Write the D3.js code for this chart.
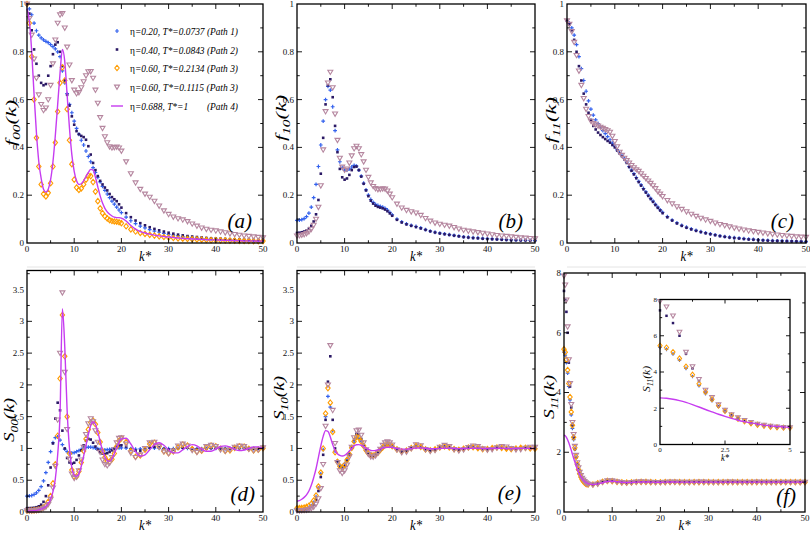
<!DOCTYPE html>
<html><head><meta charset="utf-8">
<script src="https://cdn.jsdelivr.net/npm/d3@7"></script>
<style>
body{margin:0;background:#fff}
svg{display:block}
text{font-family:"Liberation Serif","Times New Roman",serif}
</style>
</head><body>
<svg id="chart" width="810" height="537"></svg>
<script>
// ---------------- DATA ----------------
// k* sampling grid for panels (a)-(e)
const kMain = [0,0.5,1,1.5,2,2.5,3,3.5,4,4.5,5,5.5,6,6.5,7,7.5,8,8.5,9,9.5,10,10.5,11,11.5,12,12.5,13,13.5,14,14.5,15,15.5,16,16.5,17,17.5,18,18.5,19,19.5,20,
  21,22,23,24,25,26,27,28,29,30,31,32,33,34,35,36,37,38,39,40,41,42,43,44,45,46,47,48,49,50];
// k* sampling grid for panel (f) and its inset
const kF = [0,0.25,0.5,0.75,1,1.25,1.5,1.75,2,2.25,2.5,2.75,3,3.25,3.5,3.75,4,4.25,4.5,4.75,5,
  6,7,8,9,10,11,12,13,14,15,16,17,18,19,20,21,22,23,24,25,26,27,28,29,30,31,32,33,34,35,36,37,38,39,40,41,42,43,44,45,46,47,48,49,50];

const legendLabels = [
  ["η", "=0.20, T*=0.0737 (Path 1)"],
  ["η", "=0.40, T*=0.0843 (Path 2)"],
  ["η", "=0.60, T*=0.2134 (Path 3)"],
  ["η", "=0.60, T*=0.1115 (Path 3)"],
  ["η", "=0.688, T*=1\u00A0\u00A0\u00A0\u00A0\u00A0\u00A0\u00A0\u00A0(Path 4)"]
];

// f00(k)
const f00_p1 = [1.0,0.98,0.955,0.92,0.888,0.87,0.858,0.85,0.844,0.838,
  0.83,0.822,0.812,0.8,0.78,0.72,0.67,0.625,0.58,0.545,
  0.51,0.48,0.455,0.43,0.41,0.385,0.362,0.34,0.315,0.295,
  0.275,0.256,0.237,0.22,0.205,0.19,0.175,0.163,0.15,0.138,0.127,
  0.108,0.093,0.081,0.071,0.063,0.056,0.05,0.045,0.04,0.036,
  0.033,0.03,0.027,0.025,0.023,0.021,0.019,0.018,0.017,0.016,
  0.015,0.014,0.013,0.012,0.012,0.011,0.011,0.01,0.01,0.01];
const f00_p2 = [1.0,0.96,0.89,0.81,0.75,0.7,0.67,0.66,0.665,0.7,
  0.74,0.79,0.83,0.84,0.8,0.74,0.68,0.62,0.575,0.53,
  0.495,0.468,0.455,0.448,0.443,0.432,0.405,0.37,0.335,0.305,
  0.28,0.26,0.245,0.232,0.22,0.205,0.192,0.183,0.175,0.162,0.148,
  0.125,0.108,0.094,0.083,0.074,0.066,0.059,0.053,0.048,0.043,
  0.039,0.035,0.032,0.029,0.027,0.025,0.023,0.021,0.02,0.019,
  0.018,0.017,0.016,0.015,0.015,0.014,0.014,0.013,0.013,0.013];
const f00_p3a = [1.0,0.92,0.78,0.6,0.44,0.32,0.245,0.205,0.195,0.21,
  0.25,0.32,0.42,0.55,0.67,0.735,0.68,0.56,0.43,0.33,
  0.265,0.232,0.222,0.228,0.245,0.265,0.282,0.28,0.255,0.215,
  0.175,0.145,0.125,0.112,0.103,0.096,0.092,0.09,0.089,0.087,0.083,
  0.07,0.057,0.048,0.042,0.038,0.034,0.031,0.028,0.025,0.023,
  0.021,0.019,0.018,0.017,0.016,0.015,0.014,0.013,0.012,0.012,
  0.011,0.011,0.01,0.01,0.009,0.009,0.009,0.008,0.008,0.008];
const f00_p3b = [1.0,0.94,0.87,0.77,0.69,0.62,0.58,0.555,0.565,0.6,
  0.66,0.75,0.85,0.92,0.955,0.96,0.9,0.82,0.745,0.68,
  0.64,0.625,0.63,0.65,0.675,0.7,0.717,0.718,0.69,0.64,
  0.585,0.525,0.48,0.445,0.42,0.403,0.398,0.4,0.402,0.398,0.385,
  0.34,0.29,0.252,0.225,0.205,0.192,0.175,0.155,0.135,0.12,
  0.109,0.102,0.097,0.09,0.08,0.071,0.063,0.058,0.054,0.051,
  0.047,0.043,0.039,0.036,0.033,0.03,0.028,0.026,0.024,0.022];
const f00_p4 = [0.98,0.93,0.8,0.62,0.46,0.34,0.27,0.225,0.213,0.225,
  0.265,0.34,0.45,0.58,0.71,0.81,0.76,0.62,0.48,0.37,
  0.3,0.26,0.245,0.248,0.26,0.278,0.295,0.308,0.305,0.275,
  0.235,0.197,0.167,0.145,0.13,0.12,0.113,0.108,0.106,0.106,0.104,
  0.092,0.073,0.058,0.048,0.042,0.037,0.033,0.03,0.027,0.025,
  0.023,0.021,0.019,0.018,0.017,0.016,0.015,0.014,0.013,0.013,
  0.012,0.011,0.011,0.01,0.01,0.009,0.009,0.009,0.008,0.008];

// f10(k)
const f10_p1 = [0.095,0.096,0.098,0.102,0.11,0.125,0.15,0.19,0.245,0.32,
  0.41,0.51,0.6,0.655,0.64,0.57,0.47,0.39,0.34,0.315,
  0.305,0.305,0.31,0.318,0.325,0.322,0.305,0.28,0.25,0.222,
  0.2,0.182,0.17,0.162,0.157,0.153,0.15,0.145,0.138,0.128,0.118,
  0.1,0.088,0.08,0.074,0.069,0.063,0.056,0.05,0.045,0.041,
  0.038,0.035,0.032,0.029,0.026,0.024,0.022,0.021,0.019,0.018,
  0.017,0.016,0.015,0.014,0.013,0.012,0.012,0.011,0.011,0.01];
const f10_p2 = [0.042,0.043,0.045,0.048,0.052,0.06,0.072,0.09,0.12,0.18,
  0.29,0.44,0.58,0.66,0.685,0.61,0.49,0.38,0.31,0.275,
  0.265,0.27,0.285,0.305,0.318,0.32,0.305,0.278,0.248,0.22,
  0.196,0.177,0.165,0.156,0.151,0.148,0.145,0.14,0.133,0.124,0.114,
  0.097,0.086,0.078,0.072,0.067,0.061,0.055,0.049,0.044,0.04,
  0.037,0.034,0.031,0.028,0.025,0.023,0.021,0.02,0.018,0.017,
  0.016,0.015,0.014,0.013,0.012,0.012,0.011,0.011,0.01,0.01];
const f10_p3b = [0.03,0.031,0.033,0.036,0.04,0.047,0.058,0.075,0.1,0.15,
  0.24,0.39,0.55,0.67,0.715,0.65,0.54,0.43,0.355,0.318,
  0.305,0.31,0.335,0.365,0.395,0.405,0.395,0.37,0.34,0.305,
  0.275,0.252,0.237,0.228,0.224,0.225,0.227,0.226,0.218,0.205,0.19,
  0.163,0.147,0.137,0.131,0.126,0.116,0.103,0.092,0.084,0.079,
  0.075,0.071,0.065,0.059,0.054,0.05,0.047,0.044,0.041,0.038,
  0.035,0.032,0.03,0.028,0.026,0.024,0.022,0.021,0.019,0.018];

// f11(k)
const f11_p1 = [0.93,0.92,0.9,0.87,0.83,0.78,0.73,0.68,0.635,0.595,
  0.56,0.535,0.515,0.5,0.485,0.47,0.458,0.445,0.432,0.418,
  0.405,0.39,0.378,0.366,0.354,0.338,0.32,0.305,0.29,0.274,
  0.258,0.243,0.228,0.214,0.2,0.187,0.175,0.162,0.15,0.139,0.128,
  0.11,0.096,0.084,0.074,0.066,0.059,0.053,0.047,0.042,0.038,
  0.034,0.03,0.027,0.024,0.022,0.02,0.018,0.016,0.015,0.013,
  0.012,0.011,0.01,0.009,0.009,0.008,0.008,0.007,0.007,0.006];
const f11_p2 = [0.93,0.915,0.89,0.85,0.8,0.74,0.68,0.625,0.58,0.545,
  0.515,0.49,0.475,0.462,0.452,0.443,0.435,0.427,0.42,0.41,
  0.4,0.387,0.375,0.363,0.35,0.335,0.318,0.302,0.287,0.271,
  0.255,0.24,0.225,0.211,0.197,0.184,0.172,0.159,0.147,0.136,0.125,
  0.108,0.094,0.082,0.072,0.064,0.057,0.051,0.046,0.041,0.037,
  0.033,0.029,0.026,0.023,0.021,0.019,0.017,0.015,0.014,0.012,
  0.011,0.01,0.009,0.009,0.008,0.008,0.007,0.007,0.006,0.006];
const f11_p3b = [0.93,0.915,0.885,0.84,0.785,0.72,0.66,0.605,0.56,0.53,
  0.51,0.5,0.495,0.49,0.485,0.48,0.475,0.47,0.464,0.447,
  0.425,0.403,0.38,0.367,0.355,0.345,0.335,0.325,0.315,0.307,
  0.3,0.29,0.28,0.27,0.26,0.25,0.24,0.228,0.215,0.205,0.195,
  0.178,0.164,0.152,0.141,0.131,0.121,0.112,0.104,0.097,0.091,
  0.084,0.078,0.073,0.068,0.063,0.059,0.055,0.051,0.048,0.045,
  0.042,0.039,0.037,0.034,0.032,0.03,0.028,0.026,0.025,0.024];

// S00(k)
const S00_p1 = [0.25,0.255,0.26,0.275,0.3,0.34,0.4,0.49,0.62,0.78,
  0.95,1.09,1.17,1.18,1.13,1.06,0.99,0.95,0.93,0.93,
  0.935,0.95,0.965,0.985,1.0,1.015,1.02,1.02,1.015,1.005,
  0.995,0.985,0.98,0.978,0.98,0.985,0.99,0.998,1.005,1.01,1.01,
  1.005,0.995,0.99,0.992,0.998,1.004,1.006,1.003,0.998,0.996,
  0.997,1.001,1.003,1.003,1.0,0.998,0.998,1.0,1.002,1.002,
  1.0,0.999,0.999,1.0,1.001,1.001,1.0,0.999,1.0,1.0];
const S00_p2 = [0.06,0.061,0.063,0.067,0.075,0.09,0.115,0.16,0.25,0.42,
  0.7,1.08,1.47,1.72,1.6,1.28,1.0,0.85,0.78,0.76,
  0.775,0.82,0.89,0.97,1.05,1.12,1.15,1.14,1.09,1.03,
  0.98,0.94,0.92,0.915,0.925,0.945,0.97,1.0,1.03,1.045,1.05,
  1.03,0.99,0.965,0.965,0.985,1.01,1.025,1.015,0.995,0.982,
  0.985,1.0,1.012,1.012,1.0,0.99,0.99,0.998,1.006,1.007,
  1.0,0.994,0.994,0.999,1.004,1.004,1.0,0.997,0.998,1.001];
const S00_p3a = [0.02,0.02,0.022,0.025,0.03,0.038,0.05,0.07,0.1,0.16,
  0.25,0.45,0.75,1.2,2.1,3.1,2.45,1.5,0.92,0.66,
  0.555,0.56,0.64,0.78,0.96,1.15,1.3,1.41,1.44,1.38,
  1.25,1.1,0.96,0.86,0.8,0.79,0.83,0.92,1.03,1.12,1.16,
  1.1,0.96,0.87,0.89,0.98,1.07,1.09,1.03,0.955,0.925,
  0.955,1.02,1.06,1.045,0.99,0.95,0.965,1.015,1.045,1.035,
  0.995,0.96,0.97,1.01,1.035,1.03,0.995,0.97,0.98,1.005];
const S00_p3b = [0.02,0.02,0.021,0.023,0.027,0.033,0.042,0.057,0.08,0.12,
  0.2,0.38,0.72,1.45,2.5,3.45,2.2,1.3,0.83,0.6,
  0.53,0.55,0.65,0.82,1.02,1.22,1.39,1.47,1.42,1.28,
  1.1,0.94,0.82,0.75,0.73,0.77,0.86,0.98,1.09,1.16,1.17,
  1.07,0.93,0.86,0.9,1.0,1.09,1.1,1.03,0.95,0.92,
  0.96,1.04,1.07,1.04,0.97,0.94,0.97,1.03,1.05,1.03,
  0.98,0.96,0.98,1.02,1.04,1.03,0.99,0.97,0.98,1.01];
const S00_p4 = [0.015,0.016,0.018,0.021,0.026,0.033,0.044,0.06,0.085,0.13,
  0.2,0.32,0.52,0.9,1.55,3.2,2.6,1.6,1.0,0.7,
  0.58,0.56,0.6,0.72,0.88,1.05,1.22,1.36,1.42,1.38,
  1.26,1.11,0.97,0.87,0.81,0.8,0.84,0.92,1.01,1.09,1.15,
  1.16,1.07,0.95,0.88,0.9,0.98,1.06,1.09,1.05,0.98,
  0.93,0.93,0.98,1.03,1.06,1.04,0.99,0.955,0.955,0.99,
  1.03,1.04,1.02,0.985,0.965,0.975,1.0,1.025,1.025,1.0];

// S10(k)
const S10_p1 = [0.03,0.031,0.034,0.04,0.05,0.068,0.1,0.15,0.24,0.38,
  0.6,0.98,1.5,1.82,1.65,1.28,0.96,0.8,0.73,0.72,
  0.76,0.83,0.91,1.0,1.1,1.17,1.16,1.11,1.05,0.98,
  0.93,0.905,0.9,0.91,0.935,0.97,1.005,1.04,1.055,1.05,1.03,
  0.99,0.96,0.97,1.0,1.03,1.02,0.99,0.975,0.985,1.01,
  1.02,1.01,0.99,0.985,0.995,1.01,1.012,1.0,0.99,0.993,
  1.003,1.008,1.004,0.996,0.995,1.0,1.005,1.004,0.999,0.998];
const S10_p2 = [0.04,0.041,0.043,0.047,0.053,0.063,0.08,0.12,0.19,0.33,
  0.55,0.9,1.45,2.05,2.45,1.45,1.0,0.8,0.7,0.68,
  0.72,0.8,0.9,1.02,1.14,1.23,1.22,1.15,1.06,0.97,
  0.91,0.88,0.88,0.9,0.935,0.98,1.025,1.06,1.075,1.065,1.04,
  0.985,0.95,0.96,1.0,1.04,1.025,0.99,0.97,0.98,1.01,
  1.03,1.015,0.99,0.98,0.99,1.01,1.02,1.005,0.99,0.99,
  1.0,1.01,1.01,0.998,0.992,0.997,1.006,1.008,1.0,0.997];
const S10_p3a = [0.06,0.061,0.064,0.07,0.08,0.098,0.13,0.18,0.26,0.4,
  0.62,1.0,1.55,1.95,1.72,1.26,0.94,0.79,0.72,0.7,
  0.74,0.82,0.91,1.01,1.11,1.18,1.17,1.11,1.04,0.97,
  0.92,0.895,0.89,0.905,0.935,0.975,1.015,1.05,1.065,1.055,1.035,
  0.985,0.955,0.965,1.005,1.04,1.025,0.985,0.97,0.985,1.015,
  1.03,1.015,0.99,0.98,0.995,1.015,1.02,1.005,0.99,0.99,
  1.005,1.015,1.01,0.995,0.99,1.0,1.01,1.01,1.0,0.995];
const S10_p3b = [0.02,0.021,0.023,0.026,0.031,0.04,0.055,0.08,0.125,0.21,
  0.37,0.75,1.35,2.0,2.62,1.6,1.08,0.78,0.65,0.61,
  0.65,0.74,0.87,1.02,1.17,1.28,1.29,1.21,1.09,0.98,
  0.91,0.87,0.865,0.885,0.93,0.99,1.05,1.09,1.105,1.09,1.055,
  0.98,0.935,0.945,1.0,1.06,1.045,0.985,0.955,0.97,1.02,
  1.05,1.03,0.985,0.965,0.98,1.015,1.04,1.03,0.995,0.975,
  0.985,1.01,1.03,1.025,1.0,0.98,0.985,1.005,1.02,1.02];
const S10_p4 = [0.17,0.18,0.2,0.23,0.27,0.33,0.42,0.54,0.68,0.86,
  1.04,1.19,1.28,1.27,1.18,1.06,0.97,0.915,0.89,0.88,
  0.89,0.92,0.96,1.0,1.04,1.058,1.06,1.05,1.03,1.005,
  0.985,0.97,0.965,0.968,0.978,0.99,1.005,1.015,1.02,1.02,1.015,
  1.0,0.99,0.99,0.997,1.006,1.008,1.003,0.996,0.995,1.0,
  1.004,1.004,1.0,0.997,0.998,1.001,1.003,1.002,0.999,0.998,
  1.0,1.002,1.002,1.0,0.999,0.999,1.001,1.001,1.0,1.0];

// S11(k) on kF
const S11_p1 = [5.35,5.25,5.0,4.65,4.2,3.75,3.25,2.8,2.42,2.1,1.82,1.58,1.4,1.27,1.16,1.08,1.02,0.98,0.95,0.93,0.92,
  0.93,0.97,1.01,1.03,1.025,1.005,0.99,0.985,0.99,1.0,
  1.008,1.008,1.002,0.997,0.996,0.999,1.002,1.003,1.001,0.999,
  0.999,1.0,1.001,1.001,1.0,0.999,0.999,1.0,1.001,1.0,
  1.0,0.999,1.0,1.0,1.001,1.0,1.0,0.999,1.0,1.0,
  1.0,1.0,1.0,1.0,1.0];
const S11_p2 = [7.4,7.1,6.7,6.0,5.0,4.2,3.5,2.9,2.5,2.1,1.82,1.6,1.43,1.3,1.19,1.11,1.05,1.0,0.97,0.94,0.92,
  0.91,0.95,1.01,1.045,1.04,1.01,0.985,0.978,0.988,1.003,
  1.012,1.01,1.002,0.995,0.994,0.998,1.003,1.004,1.001,0.998,
  0.998,1.0,1.002,1.001,1.0,0.999,0.999,1.0,1.001,1.001,
  1.0,0.999,0.999,1.0,1.001,1.0,1.0,0.999,1.0,1.0,
  1.0,1.0,1.0,1.0,1.0];
const S11_p3a = [5.45,5.35,5.1,4.75,4.3,3.85,3.35,2.9,2.5,2.15,1.85,1.6,1.42,1.28,1.17,1.09,1.03,0.98,0.95,0.93,0.92,
  0.92,0.96,1.01,1.04,1.035,1.01,0.99,0.982,0.99,1.003,
  1.01,1.008,1.0,0.996,0.996,1.0,1.003,1.003,1.0,0.998,
  0.998,1.0,1.002,1.002,1.0,0.998,0.999,1.0,1.002,1.001,
  1.0,0.999,0.999,1.0,1.001,1.001,1.0,0.999,1.0,1.0,
  1.0,1.001,1.0,1.0,1.0];
const S11_p3b = [7.9,7.6,7.1,6.2,5.1,4.3,3.6,3.0,2.6,2.2,1.9,1.65,1.48,1.33,1.22,1.13,1.07,1.02,0.98,0.95,0.93,
  0.91,0.94,1.0,1.045,1.045,1.015,0.985,0.975,0.985,1.003,
  1.013,1.01,1.0,0.993,0.993,0.998,1.004,1.005,1.001,0.997,
  0.997,1.0,1.003,1.002,1.0,0.998,0.998,1.0,1.002,1.002,
  1.0,0.998,0.999,1.0,1.002,1.001,1.0,0.999,0.999,1.0,
  1.001,1.001,1.0,0.999,1.0];
const S11_p4 = [2.57,2.55,2.5,2.42,2.32,2.2,2.07,1.93,1.8,1.67,1.55,1.44,1.34,1.26,1.19,1.13,1.07,1.03,1.0,0.97,0.95,
  0.92,0.94,0.98,1.02,1.03,1.015,0.995,0.985,0.99,1.0,
  1.006,1.006,1.001,0.997,0.997,1.0,1.002,1.002,1.0,0.999,
  0.999,1.0,1.001,1.001,1.0,0.999,1.0,1.0,1.001,1.0,
  1.0,1.0,1.0,1.0,1.0,1.0,1.0,1.0,1.0,1.0,
  1.0,1.0,1.0,1.0,1.0];

// ticks
const xTicks = [0,10,20,30,40,50];
const xMinor = [5,15,25,35,45];
const yTicksF = [0,0.2,0.4,0.6,0.8,1];
const yMinorF = [0.1,0.3,0.5,0.7,0.9];
const yTicksS = [0,0.5,1,1.5,2,2.5,3,3.5];
const yMinorS = [0.25,0.75,1.25,1.75,2.25,2.75,3.25,3.75];
const yTicks11 = [0,2,4,6,8];
const yMinor11 = [1,3,5,7];
const xTicksIn = [0,2.5,5];
const xMinorIn = [1.25,3.75];

// ---------------- STYLE ----------------
const C = {p1:'#3462ee', p2:'#2b1965', p3a:'#ff9c00', p3b:'#b5869f', p4:'#c63cf0'};
const SH = {
  plus: 'M-1.9,0H1.9M0,-1.9V1.9',
  square: 'M-1.3,-1.3H1.3V1.3H-1.3Z',
  diamond: 'M0,-2.7L2.2,0L0,2.7L-2.2,0Z',
  tri: 'M-2.5,-1.9H2.5L0,2.4Z'
};
const STY = {
  p1: {shape:'plus', fill:'none', stroke:C.p1, sw:1.2},
  p2: {shape:'square', fill:C.p2, stroke:'none', sw:0},
  p3a: {shape:'diamond', fill:'none', stroke:C.p3a, sw:1.1},
  p3b: {shape:'tri', fill:'none', stroke:C.p3b, sw:1.1}
};

const svg = d3.select('#chart');

function richLabel(g, main, sub, rest, size, len) {
  const t = g.append('text').attr('font-style','italic').attr('font-size', size).attr('fill','#000');
  t.append('tspan').text(main);
  t.append('tspan').attr('font-size', size*0.7).attr('dy', size*0.28).text(sub);
  t.append('tspan').attr('dy', -size*0.28).text(rest);
  if (len) t.attr('textLength', len).attr('lengthAdjust','spacingAndGlyphs');
  return t;
}

function drawPanel(p) {
  const x = d3.scaleLinear().domain(p.xdom).range([p.L, p.R]);
  const y = d3.scaleLinear().domain(p.ydom).range([p.B, p.T]);
  const g = svg.append('g');
  if (p.bg) g.append('rect').attr('x',p.L).attr('y',p.T).attr('width',p.R-p.L).attr('height',p.B-p.T).attr('fill','#fff');
  const ms = p.ms || 1;
  p.series.forEach(s => {
    const pts = p.k.map((kv,i)=>({k:kv, v:s.v[i]})).filter(d => d.k <= p.xdom[1] + 1e-9);
    if (s.id === 'p4') {
      g.append('path').datum(pts).attr('fill','none').attr('stroke',C.p4).attr('stroke-width',1.4)
        .attr('d', d3.line().x(d=>x(d.k)).y(d=>y(d.v)).curve(d3.curveMonotoneX));
    } else {
      const st = STY[s.id];
      g.append('g').selectAll('path').data(pts).join('path')
        .attr('transform', d=>`translate(${x(d.k).toFixed(2)},${y(d.v).toFixed(2)}) scale(${ms})`)
        .attr('d', SH[st.shape]).attr('fill', st.fill).attr('stroke', st.stroke).attr('stroke-width', st.sw);
    }
  });
  // frame
  g.append('rect').attr('x',p.L).attr('y',p.T).attr('width',p.R-p.L).attr('height',p.B-p.T)
    .attr('fill','none').attr('stroke','#000').attr('stroke-width',1.3);
  // ticks
  const tk = g.append('g').attr('stroke','#000').attr('stroke-width',0.9);
  const M = p.tickLen || 5, m = (p.tickLen || 5) * 0.55;
  const xt = (vals,len) => vals.forEach(v => {
    tk.append('line').attr('x1',x(v)).attr('x2',x(v)).attr('y1',p.B).attr('y2',p.B-len);
    tk.append('line').attr('x1',x(v)).attr('x2',x(v)).attr('y1',p.T).attr('y2',p.T+len);
  });
  const yt = (vals,len) => vals.forEach(v => {
    tk.append('line').attr('y1',y(v)).attr('y2',y(v)).attr('x1',p.L).attr('x2',p.L+len);
    tk.append('line').attr('y1',y(v)).attr('y2',y(v)).attr('x1',p.R).attr('x2',p.R-len);
  });
  xt(p.xTicks.slice(1,-1), M); xt(p.xMinor, m);
  yt(p.yTicks.slice(1,-1), M); yt(p.yMinor, m);
  const fs = p.tfs || 9;
  g.append('g').selectAll('text').data(p.xTicks).join('text')
    .attr('x', d=>x(d)).attr('y', p.B + fs).attr('text-anchor','middle').attr('font-size',fs).attr('fill','#111').text(d=>String(d));
  g.append('g').selectAll('text').data(p.yTicks).join('text')
    .attr('x', p.L - 3).attr('y', d=>y(d) + fs*0.33).attr('text-anchor','end').attr('font-size',fs).attr('fill','#111').text(d=>String(d));
  // axis titles
  const yl = richLabel(g, p.ylab[0], p.ylab[1], '(k)', p.lfs || 15, p.ylen || 45);
  yl.attr('text-anchor','middle').attr('transform', `translate(${p.ylx},${p.yly}) rotate(-90)`);
  g.append('text').attr('x', (p.L+p.R)/2).attr('y', p.xly).attr('text-anchor','middle')
    .attr('font-style','italic').attr('font-size', p.kfs || 15)
    .attr('textLength', p.klen || 12).attr('lengthAdjust','spacingAndGlyphs').text('k*');
  if (p.tag) g.append('text').attr('x', p.tag[1]).attr('y', p.tag[2]).attr('text-anchor','end')
    .attr('font-style','italic').attr('font-size', 21).text(p.tag[0]);
  return g;
}

const ser = (a,b,c,d,e) => {
  const out = [];
  if (a) out.push({id:'p1', v:a});
  if (b) out.push({id:'p2', v:b});
  if (c) out.push({id:'p3a', v:c});
  if (d) out.push({id:'p3b', v:d});
  if (e) out.push({id:'p4', v:e});
  return out;
};

// faint separators under the top row
[[27,264],[297,535],[567,806]].forEach(([a,b]) =>
  svg.append('line').attr('x1',a).attr('x2',b).attr('y1',267).attr('y2',267).attr('stroke','#e4e4e4').attr('stroke-width',1));

const topCfg = {T:4, B:243, ydom:[0,1], yTicks:yTicksF, yMinor:yMinorF, xdom:[0,50], xTicks, xMinor, k:kMain, xly:261, ylen:46};
drawPanel({...topCfg, L:27, R:263, series:ser(f00_p1,f00_p2,f00_p3a,f00_p3b,f00_p4), ylab:['f','00'], ylx:16, yly:123, tag:['(a)',252,228]});
drawPanel({...topCfg, L:297, R:535, series:ser(f10_p1,f10_p2,null,f10_p3b,null), ylab:['f','10'], ylx:286, yly:118, tag:['(b)',523,228]});
drawPanel({...topCfg, L:567, R:806, series:ser(f11_p1,f11_p2,null,f11_p3b,null), ylab:['f','11'], ylx:556, yly:120, tag:['(c)',794,228]});

const botCfg = {T:270.5, B:512, ydom:[0,3.8], yTicks:yTicksS, yMinor:yMinorS, xdom:[0,50], xTicks, xMinor, k:kMain, xly:530, ylen:44};
drawPanel({...botCfg, L:27, R:263, series:ser(S00_p1,S00_p2,S00_p3a,S00_p3b,S00_p4), ylab:['S','00'], ylx:14, yly:420, tag:['(d)',255,501]});
drawPanel({...botCfg, L:297, R:535, series:ser(S10_p1,S10_p2,S10_p3a,S10_p3b,S10_p4), ylab:['S','10'], ylx:284, yly:398, tag:['(e)',521,500]});
drawPanel({T:273, B:512, ydom:[0,8], yTicks:yTicks11, yMinor:yMinor11, xdom:[0,50], xTicks, xMinor, k:kF, xly:530, ylen:44,
  L:564, R:805, series:ser(S11_p1,S11_p2,S11_p3a,S11_p3b,S11_p4), ylab:['S','11'], ylx:554, yly:397, tag:['(f)',796,503]});

// inset
drawPanel({T:299.5, B:444.5, ydom:[0,8], yTicks:yTicks11, yMinor:yMinor11, xdom:[0,5], xTicks:xTicksIn, xMinor:xMinorIn, k:kF, xly:461,
  L:660, R:790, bg:true, tfs:7, tickLen:4, lfs:11, ylen:26, kfs:10, klen:8, ms:0.95,
  series:ser(S11_p1,S11_p2,S11_p3a,S11_p3b,S11_p4), ylab:['S','11'], ylx:650, yly:379, tag:null});

// legend in panel (a)
const lg = svg.append('g');
const rowsY = [31,49.5,68,87,106];
const legIds = ['p1','p2','p3a','p3b','p4'];
legIds.forEach((id,i) => {
  const cy = rowsY[i];
  if (id === 'p4') {
    lg.append('line').attr('x1',111).attr('x2',123).attr('y1',cy).attr('y2',cy).attr('stroke',C.p4).attr('stroke-width',1.4);
  } else {
    const st = STY[id];
    lg.append('path').attr('transform',`translate(117,${cy})`).attr('d',SH[st.shape])
      .attr('fill',st.fill).attr('stroke',st.stroke).attr('stroke-width',st.sw);
  }
  const lab = legendLabels[i];
  const t = lg.append('text').attr('x',130).attr('y',cy+4).attr('font-size',11).attr('font-style','italic')
    .attr('textLength', 108).attr('lengthAdjust','spacingAndGlyphs');
  t.append('tspan').attr('font-style','normal').text(lab[0]);
  t.append('tspan').text(lab[1]);
});
</script>
</body></html>
